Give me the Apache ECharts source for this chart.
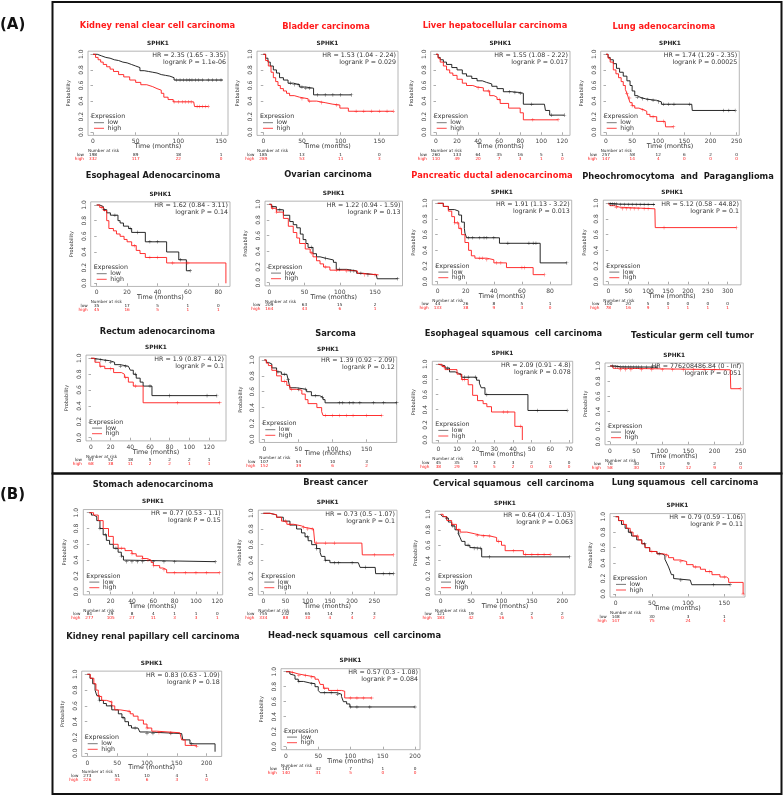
<!DOCTYPE html>
<html><head><meta charset="utf-8">
<script src="https://cdn.jsdelivr.net/npm/echarts@6/dist/echarts.min.js"></script>
<style>html,body{margin:0;padding:0;background:#fff}#c{width:784px;height:796px}</style>
</head><body><div id="c"></div>
<script>
// ---------------- DATA ----------------
const titles = ["Kidney renal clear cell carcinoma","Bladder carcinoma","Liver hepatocellular carcinoma","Lung adenocarcinoma",
 "Esophageal Adenocarcinoma","Ovarian carcinoma","Pancreatic ductal adenocarcinoma","Pheochromocytoma  and  Paraganglioma",
 "Rectum adenocarcinoma","Sarcoma","Esophageal squamous  cell carcinoma","Testicular germ cell tumor",
 "Stomach adenocarcinoma","Breast cancer","Cervical squamous  cell carcinoma","Lung squamous  cell carcinoma",
 "Kidney renal papillary cell carcinoma","Head-neck squamous  cell carcinoma"];
const geneName = "SPHK1";
const hrLines = ["HR = 2.35 (1.65 - 3.35)","HR = 1.53 (1.04 - 2.24)","HR = 1.55 (1.08 - 2.22)","HR = 1.74 (1.29 - 2.35)",
 "HR = 1.62 (0.84 - 3.11)","HR = 1.22 (0.94 - 1.59)","HR = 1.91 (1.13 - 3.22)","HR = 5.12 (0.58 - 44.82)",
 "HR = 1.9 (0.87 - 4.12)","HR = 1.39 (0.92 - 2.09)","HR = 2.09 (0.91 - 4.8)","HR = 776208486.84 (0 - Inf)",
 "HR = 0.77 (0.53 - 1.1)","HR = 0.73 (0.5 - 1.07)","HR = 0.64 (0.4 - 1.03)","HR = 0.79 (0.59 - 1.06)",
 "HR = 0.83 (0.63 - 1.09)","HR = 0.57 (0.3 - 1.08)"];
const pLines = ["logrank P = 1.1e-06","logrank P = 0.029","logrank P = 0.017","logrank P = 0.00025",
 "logrank P = 0.14","logrank P = 0.13","logrank P = 0.013","logrank P = 0.1",
 "logrank P = 0.1","logrank P = 0.12","logrank P = 0.078","logrank P = 0.051",
 "logrank P = 0.15","logrank P = 0.1","logrank P = 0.063","logrank P = 0.11",
 "logrank P = 0.18","logrank P = 0.084"];
const xTicks = [[0,50,100,150],[0,50,100,150],[0,20,40,60,80,100,120],[0,50,100,150,200,250],
 [0,20,40,60,80],[0,50,100,150],[0,20,40,60,80],[0,50,100,150,200,250,300],
 [0,20,40,60,80,100,120],[0,50,100,150],[0,10,20,30,40,50,60,70],[0,50,100,150,200,250],
 [0,20,40,60,80,100,120],[0,50,100,150,200,250],[0,50,100,150,200],[0,50,100,150],
 [0,50,100,150,200],[0,50,100,150,200]];
const yTicks = [0,0.2,0.4,0.6,0.8,1.0];
const riskLow = [[198,89,18,1],[185,13,1,0],[260,133,64,35,16,5,1],[257,58,12,6,2,0],
 [35,17,5,1,0],[209,63,15,2],[44,26,8,5,1],[100,20,5,0,0,0,0],
 [97,52,18,5,2,2,1],[107,54,10,3],[45,35,12,3,3,2,1,0],[76,30,15,9,2,0],
 [84,29,8,4,1,1,0],[755,232,65,14,7,3],[121,19,4,2,2],[148,30,3,1],
 [273,51,10,4,1],[147,42,7,1,0]];
const riskHigh = [[332,117,22,0],[289,53,11,3],[110,49,20,7,3,1,0],[147,14,4,0,0,0],
 [45,16,5,1,1],[164,43,6,1],[133,38,9,3,0],[78,16,9,1,1,1,1],
 [68,38,11,2,2,1,1],[152,39,6,2],[38,29,9,5,2,0,0,0],[58,30,17,12,9,0],
 [277,105,27,11,3,3,1],[334,88,30,4,4,2],[183,42,16,5,0],[147,75,24,4],
 [226,35,6,3,0],[140,31,5,0,0]];

// Kaplan-Meier curves: [month, survival after that month]
const kircLow = [[0,1],[5,0.98],[10,0.96],[15,0.95],[20,0.93],[25,0.92],[30,0.9],[35,0.89],[40,0.87],[45,0.85],[50,0.83],[55,0.79],[60,0.78],[65,0.77],[70,0.76],[75,0.74],[80,0.73],[85,0.72],[90,0.7],[95,0.67],[152,0.67]];
const kircHigh = [[0,1],[3,0.96],[6,0.93],[9,0.9],[12,0.87],[16,0.84],[20,0.81],[24,0.78],[30,0.74],[36,0.71],[43,0.67],[50,0.64],[56,0.61],[63,0.585],[70,0.56],[75,0.54],[80,0.5],[83,0.45],[88,0.42],[94,0.39],[118,0.39],[119,0.33],[135,0.33]];
const blcaLow = [[0,1],[3,0.95],[6,0.9],[9,0.85],[13,0.8],[17,0.76],[21,0.7],[26,0.67],[32,0.63],[39,0.61],[47,0.58],[55,0.565],[65,0.48],[114,0.48]];
const blcaHigh = [[0,1],[3,0.92],[6.5,0.85],[10,0.77],[13,0.7],[16,0.65],[19,0.6],[22,0.56],[26,0.53],[30,0.5],[34,0.47],[40,0.45],[47,0.43],[58,0.4],[69,0.38],[80,0.36],[90,0.35],[99,0.31],[110,0.27],[168,0.27]];
const lihcLow = [[0,1],[2,0.96],[4,0.93],[7,0.9],[10,0.87],[15,0.83],[20,0.8],[25,0.75],[29,0.72],[34,0.69],[39,0.66],[44,0.64],[48,0.62],[53,0.59],[58,0.56],[64,0.52],[72,0.51],[80,0.5],[83,0.36],[103,0.36],[104,0.28],[108,0.22],[122,0.22]];
const lihcHigh = [[0,1],[2,0.95],[4,0.9],[7,0.85],[10,0.8],[13,0.76],[16,0.73],[20,0.68],[25,0.63],[29,0.6],[35,0.58],[39,0.57],[45,0.53],[51,0.47],[55,0.45],[58,0.42],[61,0.37],[69,0.31],[80,0.25],[83,0.16],[116,0.16]];
const luadLow = [[0,1],[4,0.96],[8,0.93],[14,0.88],[20,0.82],[26,0.77],[33,0.72],[40,0.66],[46,0.6],[50,0.53],[55,0.47],[60,0.45],[65,0.43],[75,0.42],[84,0.41],[97,0.39],[106,0.36],[164,0.36],[165,0.28],[247,0.28]];
const luadHigh = [[0,1],[4,0.95],[8,0.9],[14,0.8],[19,0.75],[24,0.7],[29,0.65],[33,0.6],[37,0.55],[40,0.5],[43,0.44],[46,0.38],[50,0.34],[55,0.31],[63,0.29],[71,0.27],[78,0.23],[84,0.2],[97,0.14],[113,0.13],[114,0.07],[129,0.07]];
const esadLow = [[0,1],[2,0.98],[4.4,0.94],[6.6,0.9],[9,0.87],[14,0.8],[15.4,0.77],[17.6,0.73],[21,0.7],[23,0.65],[32,0.53],[46,0.4],[54,0.3],[59,0.16],[61.5,0.16]];
const esadHigh = [[0,1],[2,0.97],[4.4,0.93],[6.6,0.8],[8,0.7],[11,0.67],[13,0.63],[15.4,0.6],[18,0.56],[20,0.53],[23,0.48],[26,0.42],[28.5,0.38],[32,0.33],[46,0.26],[85,0.26],[85,0]];
const ovLow = [[0,1],[3,0.97],[10,0.93],[20,0.86],[29,0.78],[34,0.74],[39,0.7],[44,0.62],[48,0.55],[52,0.5],[55,0.45],[62,0.37],[67,0.33],[72,0.31],[81,0.29],[91,0.26],[95,0.17],[110,0.15],[124,0.12],[133,0.1],[152,0.1],[153,0.05],[182,0.05]];
const ovHigh = [[0,1],[3,0.95],[10,0.9],[20,0.82],[27,0.72],[34,0.64],[39,0.57],[43,0.5],[51,0.43],[58,0.38],[62,0.33],[67,0.28],[72,0.24],[77,0.2],[86,0.16],[110,0.15],[125,0.12],[129,0.1],[155,0.1]];
const paadLow = [[0,1],[4,0.96],[7.6,0.92],[12,0.9],[15,0.85],[17,0.76],[19,0.68],[19.4,0.62],[20.6,0.56],[44,0.49],[73,0.24],[92,0.24]];
const paadHigh = [[0,1],[4,0.96],[7.6,0.9],[10,0.83],[12,0.75],[15,0.68],[17,0.6],[19.4,0.5],[22,0.4],[24,0.33],[26.5,0.3],[35,0.28],[40,0.24],[49,0.18],[68,0.09],[76,0.09]];
const pcpgLow = [[0,1],[3,0.99],[25,0.985],[117,0.985]];
const pcpgHigh = [[0,1],[4,0.97],[15,0.95],[29,0.93],[117,0.93],[118,0.69],[322,0.69]];
const readLow = [[0,1],[2.4,0.98],[12.5,0.97],[19,0.95],[24,0.92],[29.5,0.9],[38,0.88],[40,0.85],[43,0.8],[46,0.75],[50,0.7],[53,0.65],[62,0.53],[128,0.53]];
const readHigh = [[0,1],[4,0.95],[9,0.9],[14,0.87],[23,0.82],[31,0.8],[34,0.76],[38,0.7],[43,0.65],[53,0.44],[131,0.44]];
const sarcLow = [[0,1],[3,0.97],[6,0.95],[11,0.9],[18,0.85],[25,0.82],[33,0.8],[35,0.75],[37.5,0.65],[47,0.63],[62,0.6],[69,0.55],[81,0.53],[86,0.5],[89,0.46],[194,0.46]];
const sarcHigh = [[0,1],[3,0.96],[6,0.93],[11,0.87],[18,0.8],[25,0.73],[33,0.68],[37.5,0.63],[47,0.62],[55,0.57],[60,0.5],[64,0.45],[77,0.4],[84,0.35],[86,0.3],[172,0.3]];
const esccLow = [[0,1],[1,0.98],[3.6,0.95],[6,0.9],[9,0.88],[11,0.86],[12.5,0.83],[20.5,0.79],[22,0.75],[23,0.69],[25,0.6],[48,0.39],[69,0.39]];
const esccHigh = [[0,1],[2,0.97],[3.6,0.93],[10,0.87],[12.5,0.8],[16,0.73],[18.4,0.59],[21,0.52],[24,0.48],[26,0.44],[28.5,0.37],[41,0.18],[45,0.18],[45,0]];
const tgctLow = [[0,1],[10,0.99],[20,0.985],[90,0.985]];
const tgctHigh = [[0,1],[6,0.97],[19,0.95],[230,0.95],[231,0.7],[249,0.7]];
const stadLow = [[0,1],[2,0.97],[4,0.95],[7,0.9],[10,0.8],[13,0.72],[16,0.65],[19,0.6],[22.5,0.55],[27,0.5],[30,0.45],[32,0.4],[33.5,0.38],[118,0.38]];
const stadHigh = [[0,1],[4,0.97],[8.4,0.9],[13,0.8],[18,0.7],[22.5,0.6],[27,0.55],[33.5,0.52],[40,0.48],[44,0.45],[50,0.42],[54,0.4],[58,0.37],[60,0.33],[66,0.3],[69,0.28],[72.5,0.24],[122,0.24]];
const brcaLow = [[0,1],[15,0.98],[30,0.95],[45,0.9],[60,0.85],[75,0.8],[86,0.75],[94,0.7],[101,0.65],[109,0.6],[120,0.55],[128,0.5],[131,0.45],[139,0.4],[150,0.37],[214,0.37],[218,0.31],[252,0.31],[253,0.23],[293,0.23]];
const brcaHigh = [[0,1],[15,0.98],[30,0.95],[41,0.9],[53,0.86],[68,0.84],[86,0.82],[94,0.8],[113,0.8],[116,0.62],[222,0.62],[223,0.47],[293,0.47]];
const cescLow = [[0,1],[3,0.97],[7,0.95],[12.6,0.9],[18,0.85],[23.5,0.8],[29,0.75],[32,0.7],[34.5,0.65],[40,0.6],[48,0.57],[55,0.56],[67.4,0.45],[212,0.45]];
const cescHigh = [[0,1],[4,0.97],[10,0.92],[18,0.87],[26,0.8],[32,0.77],[43,0.75],[55,0.73],[65,0.72],[81,0.7],[92,0.65],[100,0.6],[106,0.53],[136,0.48],[180,0.48]];
const luscLow = [[0,1],[4,0.95],[8,0.9],[13,0.85],[17.5,0.8],[22,0.75],[29,0.7],[36,0.65],[40.5,0.6],[47,0.55],[57,0.52],[64,0.5],[68,0.45],[70.5,0.4],[73,0.35],[75,0.3],[77,0.25],[80,0.2],[82,0.18],[103,0.18],[105,0.12],[158,0.12]];
const luscHigh = [[0,1],[4,0.95],[10.6,0.9],[15,0.85],[20,0.8],[24,0.75],[31,0.7],[36,0.65],[40.5,0.6],[47,0.55],[57,0.52],[66,0.5],[73,0.47],[80,0.44],[89,0.42],[98,0.38],[107,0.35],[117,0.32],[124,0.29],[133,0.25],[144,0.22],[153,0.2],[156,0.15],[176,0.15],[176,0]];
const kirpLow = [[0,1],[4.5,0.95],[9,0.88],[13,0.8],[16,0.73],[20,0.67],[27,0.63],[32,0.6],[41,0.55],[52,0.5],[58,0.45],[63,0.4],[69,0.35],[74,0.32],[85,0.3],[88,0.27],[100,0.25],[158,0.25],[160,0.17],[172,0.12],[214,0.12],[214,0.02]];
const kirpHigh = [[0,1],[5,0.95],[11,0.88],[14.5,0.8],[18.4,0.72],[24,0.67],[32,0.65],[41,0.6],[46,0.55],[55,0.53],[72,0.5],[77,0.47],[85,0.42],[94,0.37],[100,0.32],[108,0.28],[116,0.26],[155,0.26],[158,0.17],[164,0.1],[183,0.09]];
const hnscLow = [[0,1],[6,0.97],[9,0.95],[14,0.9],[19,0.87],[27,0.85],[37,0.84],[45,0.8],[50,0.75],[53,0.72],[79,0.7],[86,0.67],[89,0.6],[94,0.57],[99,0.53],[200,0.53]];
const hnscHigh = [[0,1],[6,0.99],[11,0.97],[19,0.95],[32,0.93],[45,0.9],[50,0.88],[53,0.83],[58,0.78],[66,0.75],[86,0.74],[91,0.65],[133,0.65]];

// censored times (months)
const censLow = [[98,102,106,110,113,116,120,124,128,135,140,145,150],[35,40,45,50,55,60,70,80,90,100,114],[70,75,80,91,110,122],[60,70,80,90,100,110,120,130,160,225,235,247],
 [5,12,22,27,35,40,55,61.5],[5,15,60,80,100,115,120,130,140,182],[22,25,30,33,35,40,50,65,68,70,92],[5,10,15,20,30,40,50,60,70,80,90,100,113],
 [5,10,15,20,30,35,45,60,80,118,128],[20,30,35,50,60,75,85,110,115,125,130,140,160,175,194],[5,12,14,16,20,26,53,69],[5,10,15,20,25,30,35,40,45,50,55,60,70,80,90],
 [10,15,25,30,35,40,45,50,60,70,80,118],[100,120,140,160,170,200,230,270,285,293],[10,20,30,45,55,60,65,80,212],[20,40,60,90,135,158],
 [20,40,60,80,100,110,140,175],[20,40,60,70,80,100,110,130,200]];
const censHigh = [[95,100,105,108,112,115,122,125,128,132,135],[50,60,75,95,120,130,140,150,160,168],[40,50,60,92,116],[40,45,50,70,90,110,129],
 [3,25,35,40,50,60],[5,10,60,80,95,110,135,150],[12,14,16,30,32,35,42,45,60,62,76],[20,35,45,55,65,75,90,100,140,322],
 [10,20,35,45,88,131],[30,40,90,100,110,120,130,150,172],[3,13,14,35,37,44],[20,30,40,60,80,100,120,140,160,180,200,249],
 [30,40,50,55,60,70,80,90,100,110,122],[50,60,90,100,110,120,140,160,250,293],[20,30,60,70,80,95,120,140,150,160,170,180],[30,50,70,90,110,130,150,176],
 [20,40,70,100,120,140,183],[10,20,30,40,60,80,100,110,120,133]];

const lowCurves = [kircLow,blcaLow,lihcLow,luadLow,esadLow,ovLow,paadLow,pcpgLow,readLow,sarcLow,esccLow,tgctLow,stadLow,brcaLow,cescLow,luscLow,kirpLow,hnscLow];
const highCurves = [kircHigh,blcaHigh,lihcHigh,luadHigh,esadHigh,ovHigh,paadHigh,pcpgHigh,readHigh,sarcHigh,esccHigh,tgctHigh,stadHigh,brcaHigh,cescHigh,luscHigh,kirpHigh,hnscHigh];

// ---------------- LAYOUT (pixels) ----------------
// L,R frame edges; X0 pixel of month 0; XT pixel of last tick; Y1 pixel of p=1; Y0 pixel of p=0; title centre
const layout = [
 {L:88,R:228,X0:93,XT:221,Y1:54.3,Y0:132.3,tx:157.5,ty:26,red:true},
 {L:257,R:398,X0:263.3,XT:379.3,Y1:54.3,Y0:132.3,tx:326,ty:27,red:true},
 {L:430.7,R:570,X0:436,XT:562.3,Y1:54.3,Y0:132.3,tx:495,ty:26,red:true},
 {L:600.7,R:739.3,X0:606,XT:736.7,Y1:54.3,Y0:132.3,tx:664,ty:27,red:true},
 {L:90.7,R:230,X0:96.7,XT:218.3,Y1:205,Y0:283.3,tx:153,ty:175.7},
 {L:265,R:402.5,X0:269.3,XT:375,Y1:204.3,Y0:282.7,tx:328,ty:175},
 {L:432.3,R:571.7,X0:437.7,XT:550,Y1:203.3,Y0:281.7,tx:492,ty:176,red:true},
 {L:603.3,R:741,X0:608.3,XT:727.7,Y1:203.3,Y0:281.7,tx:678,ty:177},
 {L:86,R:226,X0:91,XT:209,Y1:358.3,Y0:437.7,tx:157.5,ty:332},
 {L:259.3,R:396.7,X0:264.3,XT:366.7,Y1:360,Y0:439.3,tx:335.5,ty:333.5},
 {L:432.3,R:572.7,X0:438.3,XT:569,Y1:364.3,Y0:440,tx:513.5,ty:334},
 {L:605,R:743.3,X0:610,XT:740.7,Y1:366,Y0:441.7,tx:692.5,ty:335.5},
 {L:83.3,R:222.7,X0:89.3,XT:217.3,Y1:512.7,Y0:591.7,tx:153,ty:485},
 {L:258.3,R:397,X0:263.3,XT:374.3,Y1:513.3,Y0:591.7,tx:335.5,ty:483},
 {L:435,R:575,X0:440.7,XT:562.3,Y1:514.3,Y0:591.7,tx:513.5,ty:484},
 {L:610,R:745,X0:615.7,XT:724.3,Y1:516.7,Y0:594,tx:685,ty:483.3},
 {L:81.7,R:221.7,X0:87.3,XT:206.7,Y1:674.3,Y0:753.3,tx:153,ty:637},
 {L:281,R:420,X0:286,XT:415,Y1:671.7,Y0:746.7,tx:354.5,ty:636}
];

const FONT = '"DejaVu Sans", Verdana, sans-serif';
const RED = '#ff1a1a';
const PLUS = 'path://M4.4,0h1.2v4.4h4.4v1.2h-4.4v4.4h-1.2v-4.4h-4.4v-1.2h4.4z';

function sAt(curve, t){ let v = curve[0][1]; for (const [x,y] of curve){ if (x <= t) v = y; else break; } return v; }

const grids = [], xAxes = [], yAxes = [], series = [], graphics = [];
layout.forEach((g, i) => {
  const ticks = xTicks[i];
  const T = ticks[ticks.length-1];
  const s = (g.XT - g.X0) / T;
  const xmin = (g.L - g.X0) / s, xmax = (g.R - g.X0) / s;
  const h = g.Y0 - g.Y1;
  const top = g.Y1 - 0.04*h, hh = 1.08*h, fb = top + hh;
  grids.push({left:g.L, top:top, width:g.R-g.L, height:hh, show:true, borderColor:'#a3a3a3', borderWidth:0.8, backgroundColor:'transparent', containLabel:false});
  const base = {type:'value', gridIndex:i, min:xmin, max:xmax, splitLine:{show:false}, axisLine:{show:false}};
  xAxes.push(Object.assign({}, base, {
    axisTick:{show:true, customValues:ticks, length:2.5, lineStyle:{color:'#888', width:0.7}},
    axisLabel:{customValues:ticks, fontSize:6, fontFamily:FONT, color:'#444', margin:3.5}
  }));
  [[riskLow[i],'#222',22.7],[riskHigh[i],RED,26.7]].forEach(([arr,col,dy]) => {
    xAxes.push(Object.assign({}, base, {
      position:'bottom', offset: g.Y0 + dy - fb,
      axisTick:{show:false},
      axisLabel:{customValues:ticks, fontSize:4.2, fontFamily:FONT, color:col, margin:0, verticalAlign:'middle',
        formatter:(v)=>{ const k = ticks.findIndex(t=>Math.abs(t-v)<1e-6); return k<0?'':String(arr[k]); }}
    }));
  });
  yAxes.push({type:'value', gridIndex:i, min:-0.04, max:1.04, splitLine:{show:false}, axisLine:{show:false},
    axisTick:{show:true, customValues:yTicks, length:2.5, lineStyle:{color:'#888', width:0.7}},
    axisLabel:{customValues:yTicks, rotate:90, fontSize:6, fontFamily:FONT, color:'#444', margin:3.5, formatter:(v)=>v.toFixed(1)}});
  const xi = 3*i;
  [[lowCurves[i],'#111',censLow[i]],[highCurves[i],RED,censHigh[i]]].forEach(([cur,col,cens]) => {
    series.push({type:'line', xAxisIndex:xi, yAxisIndex:i, data:cur, step:'end', symbol:'none', silent:true,
      lineStyle:{color:col, width:0.9}, animation:false, z:3});
    series.push({type:'scatter', xAxisIndex:xi, yAxisIndex:i, data:cens.map(t=>[t, sAt(cur,t)]), symbol:PLUS, symbolSize:3.6,
      itemStyle:{color:col}, silent:true, animation:false, z:4});
  });
  // texts
  const txt = (x,y,text,o) => graphics.push(Object.assign({type:'text', x:x, y:y, silent:true,
      style:Object.assign({text:text, fontFamily:FONT, fontSize:6.5, fill:'#333', align:'left', verticalAlign:'middle'}, o||{})}));
  txt(g.tx, g.ty, titles[i], {fontSize:8.3, fontWeight:'bold', fill:g.red?RED:'#1a1a1a', align:'center'});
  txt((g.L+g.R)/2, g.Y1-11, geneName, {fontSize:5.8, fontWeight:'bold', fill:'#222', align:'center'});
  txt(g.R-2, g.Y1+0.6, hrLines[i], {align:'right', fontSize:6.3});
  txt(g.R-2, g.Y1+7.6, pLines[i], {align:'right', fontSize:6.3});
  txt(g.L+3, g.Y0-15.6, 'Expression', {fontSize:6.3});
  graphics.push({type:'line', silent:true, shape:{x1:g.L+6, y1:g.Y0-9.6, x2:g.L+16, y2:g.Y0-9.6}, style:{stroke:'#555', lineWidth:0.8}});
  graphics.push({type:'line', silent:true, shape:{x1:g.L+6, y1:g.Y0-4, x2:g.L+16, y2:g.Y0-4}, style:{stroke:RED, lineWidth:0.8}});
  txt(g.L+19.5, g.Y0-9.6, 'low', {fontSize:6.3});
  txt(g.L+19.5, g.Y0-4, 'high', {fontSize:6.3});
  txt((g.L+g.R)/2, g.Y0+14.4, 'Time (months)', {fontSize:6.4, align:'center'});
  graphics.push({type:'text', x:g.L-19, y:(g.Y1+g.Y0)/2, rotation:Math.PI/2, silent:true,
    style:{text:'Probability', fontFamily:FONT, fontSize:5, fill:'#333', align:'center', verticalAlign:'middle'}});
  txt(g.L, g.Y0+18.8, 'Number at risk', {fontSize:4.2, fill:'#333'});
  txt(g.X0-9, g.Y0+22.7, 'low', {fontSize:4.2, fill:'#222', align:'right'});
  txt(g.X0-9, g.Y0+26.7, 'high', {fontSize:4.2, fill:RED, align:'right'});
});
graphics.push({type:'rect', silent:true, shape:{x:52.5, y:2, width:729, height:471.5}, style:{fill:'none', stroke:'#111', lineWidth:2}});
graphics.push({type:'rect', silent:true, shape:{x:52.5, y:473.5, width:729, height:320.5}, style:{fill:'none', stroke:'#111', lineWidth:2}});
graphics.push({type:'text', x:0, y:25, silent:true, style:{text:'(A)', fontFamily:FONT, fontSize:15, fontWeight:'bold', fill:'#111', align:'left', verticalAlign:'middle'}});
graphics.push({type:'text', x:0, y:495, silent:true, style:{text:'(B)', fontFamily:FONT, fontSize:15, fontWeight:'bold', fill:'#111', align:'left', verticalAlign:'middle'}});

const chart = echarts.init(document.getElementById('c'), null, {renderer:'canvas'});
chart.setOption({animation:false, backgroundColor:'#fff', grid:grids, xAxis:xAxes, yAxis:yAxes, series:series, graphic:graphics});
</script></body></html>
